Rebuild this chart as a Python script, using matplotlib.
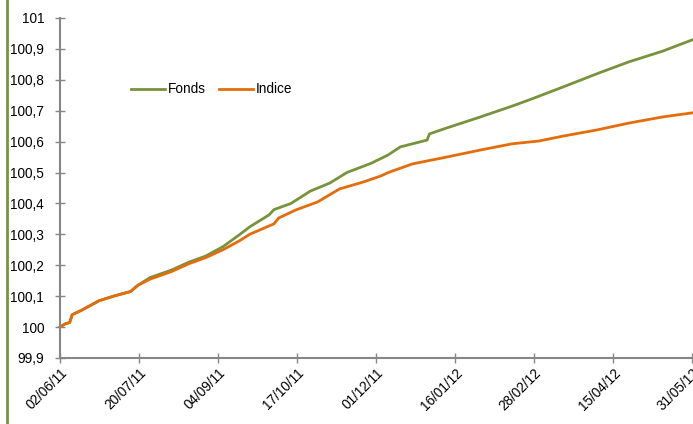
import matplotlib.pyplot as plt
from matplotlib.lines import Line2D

plt.rcParams['font.family'] = ['Liberation Sans', 'DejaVu Sans']

# trading-day index (0 = 02/06/11, 260 = 31/05/12) and values
fonds_x = [0, 2, 4, 5, 9, 16, 22, 29, 32, 37, 46, 53, 60, 67, 74, 78, 86, 88,
           95, 103, 111, 118, 128, 135, 140, 151, 152, 159, 173, 186, 193,
           207, 221, 234, 248, 260]
fonds_y = [100.000, 100.010, 100.015, 100.040, 100.055, 100.085, 100.100,
           100.115, 100.135, 100.160, 100.185, 100.210, 100.230, 100.260,
           100.300, 100.324, 100.363, 100.380, 100.400, 100.440, 100.466,
           100.500, 100.530, 100.557, 100.583, 100.605, 100.625, 100.644,
           100.680, 100.715, 100.735, 100.777, 100.820, 100.858, 100.893,
           100.929]

indice_x = [0, 2, 4, 5, 9, 16, 22, 29, 32, 37, 46, 53, 60, 67, 74, 78, 88, 90,
            97, 106, 115, 125, 132, 135, 145, 159, 173, 186, 197, 207, 221,
            234, 248, 260]
indice_y = [100.000, 100.010, 100.015, 100.040, 100.055, 100.085, 100.100,
            100.115, 100.135, 100.155, 100.180, 100.205, 100.225, 100.250,
            100.280, 100.300, 100.334, 100.353, 100.379, 100.405, 100.447,
            100.470, 100.489, 100.500, 100.528, 100.550, 100.573, 100.593,
            100.602, 100.618, 100.638, 100.660, 100.680, 100.693]

date_labels = ['02/06/11', '20/07/11', '04/09/11', '17/10/11', '01/12/11',
               '16/01/12', '28/02/12', '15/04/12', '31/05/12']
date_pos = [0, 32.5, 65, 97.5, 130, 162.5, 195, 227.5, 260]

y_ticks = [99.9, 100.0, 100.1, 100.2, 100.3, 100.4, 100.5, 100.6, 100.7,
           100.8, 100.9, 101.0]
y_labels = ['99,9', '100', '100,1', '100,2', '100,3', '100,4', '100,5',
            '100,6', '100,7', '100,8', '100,9', '101']

green = '#77933C'
orange = '#E46C0A'
grey = '#868686'

fig = plt.figure(figsize=(6.93, 4.24), dpi=100)
ax = fig.add_axes([60 / 693, 1 - 358 / 424, 632 / 693, 340 / 424])

ax.plot(fonds_x, fonds_y, color=green, lw=2, label='Fonds', clip_on=False)
ax.plot(indice_x, indice_y, color=orange, lw=2, label='Indice', clip_on=False)

ax.set_xlim(0, 260)
ax.set_ylim(99.9, 101)
ax.set_yticks(y_ticks)
ax.set_yticklabels(y_labels)
ax.set_xticks(date_pos)
ax.set_xticklabels(date_labels, rotation=45, ha='right', va='top',
                   rotation_mode='anchor')

for side in ['top', 'right']:
    ax.spines[side].set_visible(False)
for side in ['left', 'bottom']:
    ax.spines[side].set_color(grey)
    ax.spines[side].set_linewidth(1.5)
ax.tick_params(direction='inout', length=7, width=1, color=grey,
               labelsize=9.8, labelcolor='black')
ax.tick_params(axis='y', pad=8)
ax.tick_params(axis='x', pad=2)

ax.legend(loc='center left', bbox_to_anchor=(0.112, 0.79), ncol=2,
          frameon=False, fontsize=9.8, handlelength=2.5, handletextpad=0.2,
          columnspacing=1.0, borderaxespad=0, borderpad=0)

# green rule at the left edge of the picture
fig.add_artist(Line2D([7 / 693, 7 / 693], [0, 1], color=green, lw=2))

fig.savefig('out.png', dpi=100)
